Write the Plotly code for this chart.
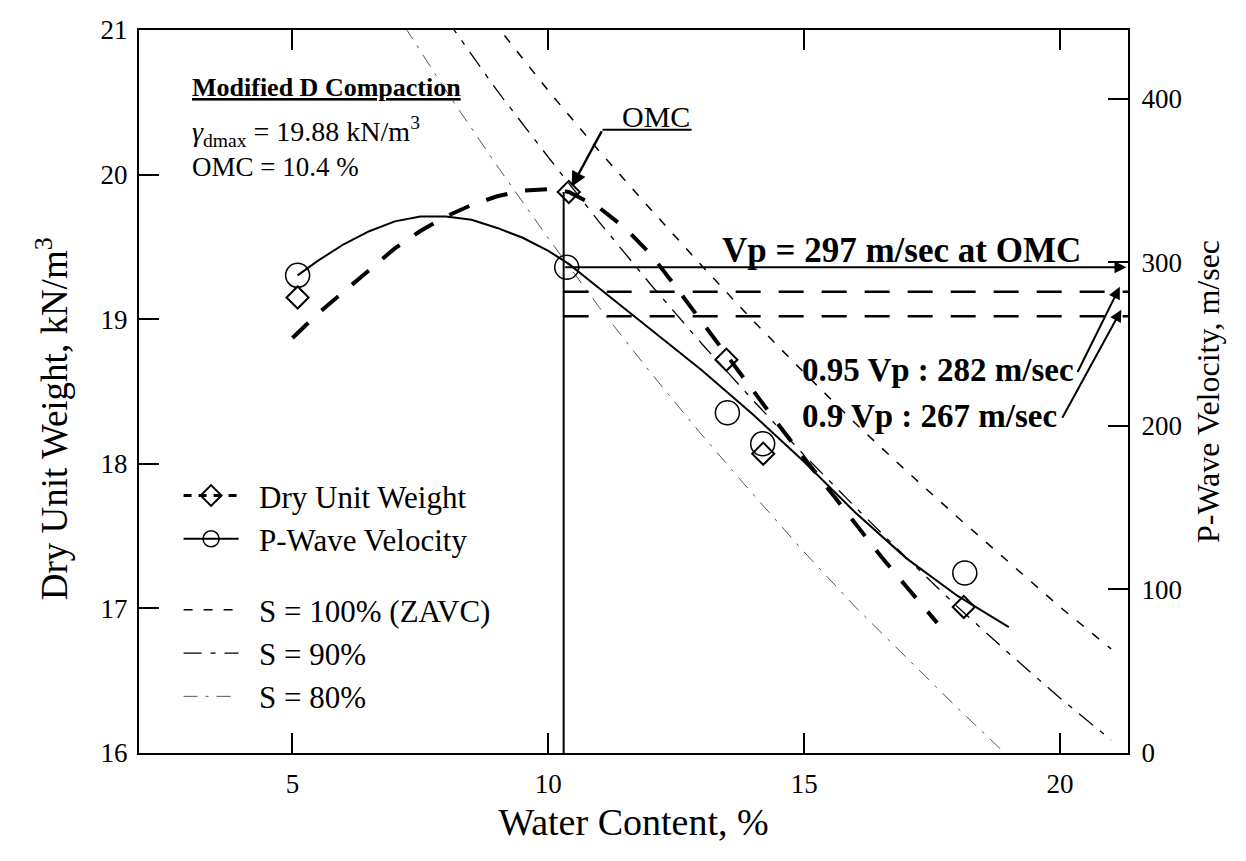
import plotly.graph_objects as go

FONT = "Liberation Serif, Times New Roman, serif"

# ---- data ----
dry_pts_w = [5.1, 10.4, 13.48, 14.2, 18.12]
dry_pts_g = [19.15, 19.88, 18.72, 18.07, 17.01]

vp_pts_w = [5.1, 10.36, 13.5, 14.19, 18.14]
vp_pts_v = [292, 297, 208, 189, 110]

dry_fit_w = [5.0, 5.5, 6.0, 6.5, 7.0, 7.5, 8.0, 8.5, 9.0, 9.5, 10.0, 10.4, 11.0, 11.5,
             12.0, 12.5, 13.0, 13.5, 14.0, 14.5, 15.0, 15.5, 16.0, 16.5, 17.0, 17.6]
dry_fit_g = [18.87, 19.04, 19.19, 19.34, 19.49, 19.61, 19.71, 19.79, 19.85, 19.89, 19.9, 19.88,
             19.77, 19.63, 19.45, 19.22, 18.98, 18.74, 18.5, 18.27, 18.04, 17.81, 17.59, 17.36,
             17.15, 16.9]

vp_fit_w = [5.1, 5.5, 6.0, 6.5, 7.0, 7.5, 8.0, 8.5, 9.0, 9.5, 10.0, 10.4, 11.0, 12.0, 13.0,
            14.0, 15.0, 16.0, 17.0, 18.0, 19.0]
vp_fit_v = [292, 301, 311, 319, 325, 328, 328, 326, 321, 315, 307, 299, 284, 259, 234,
            207, 178, 147, 119, 96, 77]

s100_w = [8.9, 10, 11, 12, 13, 14, 15, 16, 17, 18, 19, 20, 21]
s100_g = [21.07, 20.58, 20.16, 19.76, 19.37, 18.99, 18.63, 18.28, 17.95, 17.63, 17.32, 17.01, 16.72]

s90_w = [8.0, 9, 10, 11, 12, 13, 14, 15, 16, 17, 18, 19, 20, 21]
s90_g = [21.08, 20.58, 20.12, 19.67, 19.24, 18.83, 18.44, 18.06, 17.70, 17.35, 17.01, 16.69,
         16.38, 16.09]

s80_w = [7.2, 8, 9, 10, 11, 12, 13, 14, 15, 16, 17, 18, 19.1]
s80_g = [21.02, 20.58, 20.06, 19.56, 19.08, 18.63, 18.20, 17.79, 17.39, 17.01, 16.66, 16.31, 15.94]

omc = 10.4
omc_line_w = 10.3
gd_max = 19.88
vp_omc = 297
vp_95 = 282
vp_90 = 267

x_ticks = [5, 10, 15, 20]
y_ticks = [16, 17, 18, 19, 20, 21]
y2_ticks = [0, 100, 200, 300, 400]

NB = "\u00a0\u00a0"

fig = go.Figure()

# saturation lines
fig.add_trace(go.Scatter(x=s100_w, y=s100_g, mode="lines", name=NB + "S = 100% (ZAVC)",
                         line=dict(color="black", width=1.5, dash="9px,11px"),
                         legend="legend2"))
fig.add_trace(go.Scatter(x=s90_w, y=s90_g, mode="lines", name=NB + "S = 90%",
                         line=dict(color="black", width=1.3, dash="18px,9px,5px,9px"),
                         legend="legend2"))
fig.add_trace(go.Scatter(x=s80_w, y=s80_g, mode="lines", name=NB + "S = 80%",
                         line=dict(color="#555", width=1, dash="14px,8px,3px,8px"),
                         legend="legend2"))

# dry unit weight
fig.add_trace(go.Scatter(x=dry_fit_w, y=dry_fit_g, mode="lines", showlegend=False,
                         line=dict(color="black", width=4, dash="22px,18px")))
fig.add_trace(go.Scatter(x=dry_pts_w, y=dry_pts_g, mode="markers", showlegend=False,
                         marker=dict(symbol="diamond-open", size=17, color="black",
                                     line=dict(width=2, color="black"))))
# p-wave
fig.add_trace(go.Scatter(x=vp_fit_w, y=vp_fit_v, mode="lines", showlegend=False, yaxis="y2",
                         line=dict(color="black", width=2)))
fig.add_trace(go.Scatter(x=vp_pts_w, y=vp_pts_v, mode="markers", showlegend=False, yaxis="y2",
                         marker=dict(symbol="circle-open", size=24, color="black",
                                     line=dict(width=1.5, color="black"))))

# legend entries
fig.add_trace(go.Scatter(x=[None], y=[None], mode="lines+markers", name=NB + "Dry Unit Weight",
                         line=dict(color="black", width=3, dash="8px,7px"),
                         marker=dict(symbol="diamond-open", size=16, color="black",
                                     line=dict(width=2, color="black"))))
fig.add_trace(go.Scatter(x=[None], y=[None], mode="lines+markers", name=NB + "P-Wave Velocity",
                         line=dict(color="black", width=2),
                         marker=dict(symbol="circle-open", size=16, color="black",
                                     line=dict(width=1.5, color="black"))))

# reference lines
fig.add_shape(type="line", xref="x", yref="y", x0=omc_line_w, x1=omc_line_w, y0=16, y1=gd_max,
              line=dict(color="black", width=2))
for v in (vp_95, vp_90):
    fig.add_shape(type="line", xref="x", yref="y2", x0=omc_line_w, x1=21.33, y0=v, y1=v,
                  line=dict(color="black", width=2.5, dash="25px,18px"))
fig.add_shape(type="line", xref="x", yref="y", x0=11.06, x1=12.8, y0=20.31, y1=20.31,
              line=dict(color="black", width=2))

ann = []
# horizontal arrow at Vp OMC
ann.append(dict(x=21.3, y=vp_omc, xref="x", yref="y2", ax=omc_line_w, ay=vp_omc,
                axref="x", ayref="y2", text="", showarrow=True, arrowhead=2,
                arrowsize=1.2, arrowwidth=2, arrowcolor="black"))
# OMC arrow
ann.append(dict(x=omc, y=gd_max, xref="x", yref="y", ax=11.06, ay=20.31, axref="x", ayref="y",
                text="", showarrow=True, arrowhead=2, arrowsize=1.2, arrowwidth=2.5,
                arrowcolor="black", standoff=6))
# slanted arrows
ann.append(dict(x=21.17, y=285, xref="x", yref="y2", ax=20.33, ay=232, axref="x", ayref="y2",
                text="", showarrow=True, arrowhead=2, arrowsize=1.2, arrowwidth=2,
                arrowcolor="black"))
ann.append(dict(x=21.2, y=271, xref="x", yref="y2", ax=20.03, ay=204, axref="x", ayref="y2",
                text="", showarrow=True, arrowhead=2, arrowsize=1.2, arrowwidth=2,
                arrowcolor="black"))

def txt(x, y, s, size, yref="y", xanchor="left", bold=False):
    return dict(x=x, y=y, xref="x", yref=yref, text=s, showarrow=False, xanchor=xanchor,
                yanchor="middle", font=dict(family=FONT, size=size, color="black",
                                            weight="bold" if bold else "normal"))

ann.append(txt(2.99, 20.60, "<u>Modified D Compaction</u>", 26, bold=True))
ann.append(txt(2.99, 20.30, "<i>γ</i><sub>dmax</sub> = 19.88 kN/m<sup>3</sup>", 28))
ann.append(txt(2.99, 20.05, "OMC = 10.4 %", 27))
ann.append(txt(12.1, 20.40, "OMC", 30, xanchor="center"))
ann.append(txt(16.9, 307.5, "Vp = 297 m/sec at OMC", 35, yref="y2", xanchor="center", bold=True))
ann.append(txt(14.92, 234, "0.95 Vp : 282 m/sec", 33, yref="y2", bold=True))
ann.append(txt(14.92, 206, "0.9 Vp : 267 m/sec", 33, yref="y2", bold=True))

# left axis title placed as a rotated label
ann.append(dict(x=-0.088, y=0.463, xref="paper", yref="paper", showarrow=False,
                text="Dry Unit Weight, kN/m<sup>3</sup>", textangle=-90,
                xanchor="center", yanchor="middle",
                font=dict(family=FONT, size=37, color="black")))

axis_common = dict(showgrid=False, zeroline=False, ticks="inside", ticklen=20, tickwidth=2,
                   tickcolor="black", showline=True, linewidth=2, linecolor="black",
                   tickfont=dict(family=FONT, size=27, color="black"))

fig.update_layout(
    width=1246, height=861,
    margin=dict(l=139, r=118, t=30, b=108),
    paper_bgcolor="white", plot_bgcolor="white",
    xaxis=dict(range=[2, 21.33], tickvals=x_ticks, mirror="ticks", ticklabelstandoff=6,
               title=dict(text="Water Content, %", font=dict(family=FONT, size=38, color="black"),
                          standoff=10),
               **axis_common),
    yaxis=dict(range=[16, 21], tickvals=y_ticks, ticklabelstandoff=4,
               **axis_common),
    yaxis2=dict(range=[0, 442], tickvals=y2_ticks, overlaying="y", side="right",
                ticklabelstandoff=6,
                title=dict(text="P-Wave Velocity, m/sec",
                           font=dict(family=FONT, size=32, color="black"), standoff=16),
                **axis_common),
    legend=dict(x=0.04, y=0.393, xanchor="left", yanchor="top", bgcolor="rgba(0,0,0,0)",
                font=dict(family=FONT, size=31, color="black"), itemwidth=55,
                tracegroupgap=0),
    legend2=dict(x=0.04, y=0.235, xanchor="left", yanchor="top", bgcolor="rgba(0,0,0,0)",
                 font=dict(family=FONT, size=31, color="black"), itemwidth=55,
                 tracegroupgap=0),
    annotations=ann,
    showlegend=True,
)

fig.write_html("out.html")
